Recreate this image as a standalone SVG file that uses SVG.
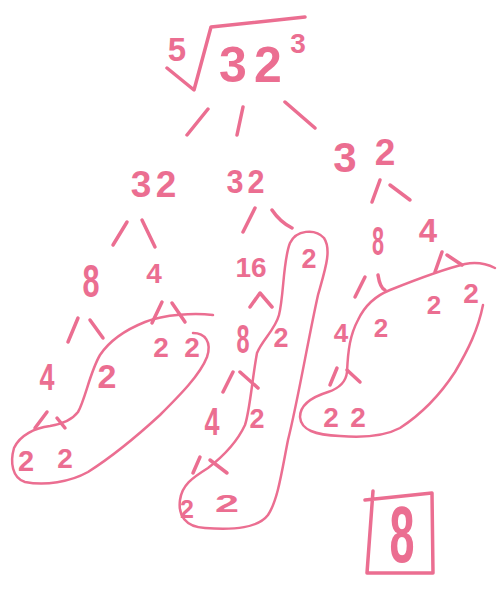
<svg xmlns="http://www.w3.org/2000/svg" width="498" height="592" viewBox="0 0 498 592">
<style>
.s{fill:none;stroke:#EB6E91;stroke-width:3.5;stroke-linecap:round;stroke-linejoin:round}
.l{fill:none;stroke:#EB6E91;stroke-width:2.5;stroke-linecap:round;stroke-linejoin:round}
text{font-family:"Liberation Sans",Arial,sans-serif;font-weight:bold;fill:#EB6E91;text-anchor:middle}
</style>
<rect width="498" height="592" fill="#fff"/>
<g id="root">
<path class="s" d="M167,68 L194,90 L211,27 L305,17"/>
<text x="177" y="61" font-size="33">5</text>
<text x="233" y="82" font-size="50">3</text>
<text x="268" y="82" font-size="50">2</text>
<text x="298" y="53" font-size="28">3</text>
</g>
<g id="n32a"><text x="141" y="197" font-size="37">3</text><text x="166" y="197" font-size="37">2</text></g>
<g id="n32b"><text x="235" y="193" font-size="34" textLength="17" lengthAdjust="spacingAndGlyphs">3</text><text x="256" y="193" font-size="34" textLength="17" lengthAdjust="spacingAndGlyphs">2</text></g>
<g id="n32c"><text x="345" y="172" font-size="42">3</text><text x="385" y="165" font-size="37">2</text></g>
<g id="n8a"><text x="91" y="297" font-size="46" textLength="17" lengthAdjust="spacingAndGlyphs">8</text></g>
<g id="n4a"><text x="154" y="283" font-size="28">4</text></g>
<g id="n16"><text x="251" y="277" font-size="28">16</text></g>
<g id="n2m"><text x="309" y="268" font-size="27">2</text></g>
<g id="n8c"><text x="378" y="255" font-size="41" textLength="12" lengthAdjust="spacingAndGlyphs">8</text></g>
<g id="n4c"><text x="428" y="242" font-size="33">4</text></g>
<g id="n4d"><text x="47" y="390" font-size="37" textLength="15" lengthAdjust="spacingAndGlyphs">4</text></g>
<g id="n2d"><text x="107" y="388" font-size="34">2</text></g>
<g id="n22a"><text x="161" y="357" font-size="28">2</text><text x="192" y="357" font-size="28">2</text></g>
<g id="n8b"><text x="243" y="353" font-size="41" textLength="13" lengthAdjust="spacingAndGlyphs">8</text></g>
<g id="n2b"><text x="281" y="347" font-size="27">2</text></g>
<g id="n4e"><text x="341" y="342" font-size="26">4</text></g>
<g id="n2e"><text x="381" y="337" font-size="26">2</text></g>
<g id="n22c"><text x="434" y="314" font-size="26">2</text><text x="471" y="303" font-size="28">2</text></g>
<g id="n22d"><text x="26" y="471" font-size="29">2</text><text x="65" y="468" font-size="28">2</text></g>
<g id="n4f"><text x="212" y="435" font-size="38" textLength="15" lengthAdjust="spacingAndGlyphs">4</text></g>
<g id="n2f"><text x="257" y="428" font-size="27">2</text></g>
<g id="n22e"><text x="187" y="518" font-size="25">2</text><text x="227" y="512" font-size="24" textLength="24" lengthAdjust="spacingAndGlyphs">2</text></g>
<g id="n22f"><text x="331" y="427" font-size="28">2</text><text x="358" y="427" font-size="28">2</text></g>
<g id="answer">
<path class="s" d="M365,500 L432,493 L433,573 L367,573 M373,491 L367,573"/>
<text x="402" y="562" font-size="80" textLength="25" lengthAdjust="spacingAndGlyphs">8</text>
</g>
<g id="connectors">
<path class="s" d="M187,135 L208,109 M243,107 L237,135 M285,102 L315,128"/>
<path class="s" d="M113,245 L127,222 M142,220 L155,247"/>
<path class="s" d="M243,232 L255,208 M272,210 Q280,222 292,228"/>
<path class="s" d="M372,202 L380,180 M390,185 L410,200"/>
<path class="s" d="M68,342 L78,318 M90,320 L103,338"/>
<path class="s" d="M152,323 L162,302 M172,303 L185,322"/>
<path class="s" d="M250,307 L260,293 L272,307"/>
<path class="s" d="M355,297 L365,277 M378,275 Q380,288 385,290"/>
<path class="s" d="M435,272 L442,252 M447,255 L462,265"/>
<path class="s" d="M35,428 L47,412 M57,418 L65,428"/>
<path class="s" d="M223,392 L233,372 M240,372 L258,388"/>
<path class="s" d="M193,473 L200,457 M210,460 L227,473"/>
<path class="s" d="M330,385 L337,368 M347,370 L360,382"/>
</g>
<g id="loops">
<path class="l" d="M213,315 C195,313 165,314 145,322 C125,330 110,340 100,355 C90,372 85,400 78,412 C72,420 62,424 50,426 C35,428 20,435 14,448 C10,462 12,478 25,482 C45,486 70,482 88,472 C110,458 135,438 160,415 C180,395 200,375 207,357 C212,342 205,333 193,333"/>
<path class="l" d="M257,353 C262,340 275,330 279,315 C284,295 283,260 290,243 C296,230 315,228 324,238 C332,250 325,270 318,295 C308,340 298,400 288,440 C282,470 278,500 268,515 C258,528 235,530 205,528 C185,527 178,515 180,500 C182,485 192,478 208,468 C225,455 238,440 245,425 C250,410 252,380 257,353"/>
<path class="l" d="M495,268 C485,263 475,262 465,264 C440,270 410,282 390,290 C375,296 365,305 358,320 C350,335 348,350 347,372 C346,382 340,388 328,392 C312,397 300,405 300,417 C301,430 315,435 340,436 C365,438 385,436 400,428 C420,415 440,395 455,372 C468,350 478,330 483,305"/>
</g>
</svg>
